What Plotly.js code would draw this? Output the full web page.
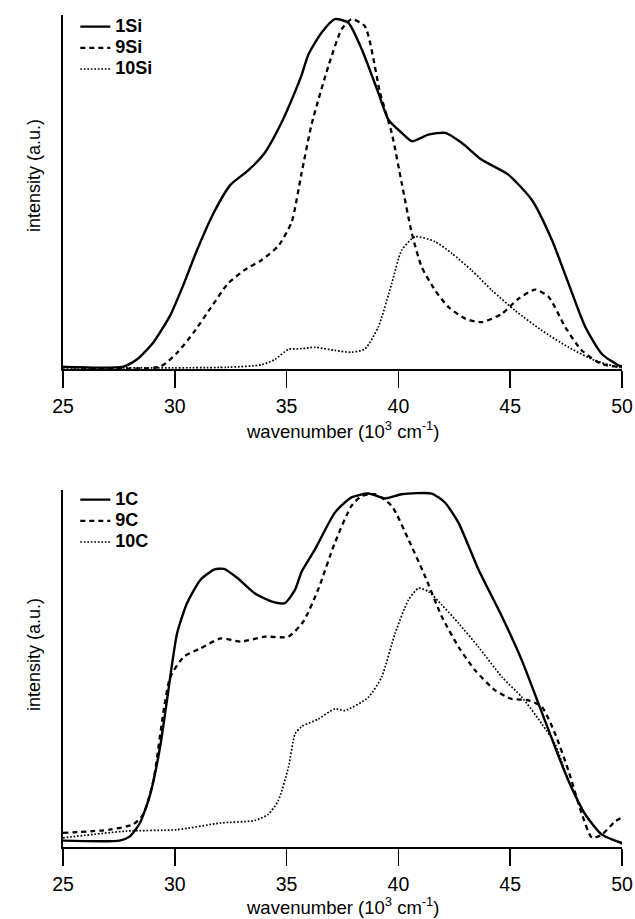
<!DOCTYPE html>
<html>
<head>
<meta charset="utf-8">
<script src="https://cdn.plot.ly/plotly-3.0.1.min.js"></script>
<style>html,body{margin:0;padding:0;background:#fff;}#chart{width:635px;height:919px;}</style>
</head>
<body>
<div id="chart"></div>
<script>
// ---- Top panel (Si) ----
const x1Si = [25, 27.7, 28.3, 29.04, 29.8, 30.4, 31.0, 31.76, 32.5, 33.27, 34.0, 34.77, 35.38, 35.67, 35.98, 36.57, 37.16, 37.76, 38.36, 39.1, 39.55, 40.15, 40.6, 41.34, 42.1, 42.84, 43.73, 44.93, 45.97, 46.87, 47.61, 48.36, 49.1, 49.85, 50];
const y1Si = [0.006, 0.007, 0.027, 0.076, 0.154, 0.243, 0.341, 0.449, 0.527, 0.567, 0.616, 0.704, 0.793, 0.84, 0.90, 0.962, 1.0, 0.99, 0.914, 0.79, 0.713, 0.675, 0.651, 0.67, 0.675, 0.646, 0.598, 0.555, 0.483, 0.368, 0.244, 0.12, 0.043, 0.01, 0.008];

const x9Si = [25, 29.34, 30.1, 30.85, 31.6, 32.36, 33.1, 33.87, 34.62, 35.22, 35.67, 36.12, 36.87, 37.46, 37.9, 38.5, 39.18, 39.7, 40.15, 40.6, 41.04, 41.64, 42.24, 42.99, 43.73, 44.63, 45.37, 46.12, 46.72, 47.46, 48.2, 49.1, 50];
const y9Si = [0.006, 0.007, 0.046, 0.105, 0.174, 0.243, 0.282, 0.311, 0.351, 0.419, 0.56, 0.70, 0.866, 0.971, 1.0, 0.98, 0.79, 0.675, 0.531, 0.388, 0.292, 0.225, 0.177, 0.144, 0.134, 0.158, 0.201, 0.227, 0.206, 0.12, 0.053, 0.014, 0.005];

const x10Si = [25, 32.36, 33.87, 34.47, 35.08, 35.67, 36.27, 37.16, 37.9, 38.5, 39.1, 39.7, 40.15, 40.75, 41.64, 42.4, 43.28, 44.18, 45.22, 46.42, 47.61, 48.8, 49.85, 50];
const y10Si = [0.003, 0.005, 0.012, 0.027, 0.056, 0.058, 0.062, 0.053, 0.048, 0.057, 0.12, 0.244, 0.34, 0.378, 0.364, 0.33, 0.282, 0.225, 0.167, 0.11, 0.062, 0.024, 0.005, 0.004];

// ---- Bottom panel (C) ----
const x1C = [25, 27.53, 27.99, 28.44, 28.9, 29.34, 29.65, 30.1, 30.55, 31.15, 31.76, 32.2, 32.8, 33.57, 34.32, 34.92, 35.38, 35.68, 36.27, 37.16, 37.9, 38.66, 39.4, 40.15, 41.49, 42.09, 42.69, 43.58, 44.63, 45.52, 46.27, 47.01, 47.61, 48.36, 49.1, 50];
const y1C = [0.018, 0.018, 0.030, 0.068, 0.149, 0.282, 0.415, 0.604, 0.69, 0.756, 0.785, 0.787, 0.761, 0.718, 0.695, 0.69, 0.728, 0.78, 0.842, 0.946, 0.989, 1.0, 0.986, 0.998, 1.0, 0.974, 0.917, 0.785, 0.652, 0.528, 0.405, 0.282, 0.187, 0.092, 0.035, 0.011];

const x9C = [25, 27.08, 28.14, 28.59, 29.04, 29.5, 29.8, 30.4, 31.15, 32.06, 32.96, 34.02, 35.08, 35.75, 36.42, 37.16, 37.9, 38.36, 38.96, 39.7, 40.45, 41.19, 41.94, 42.69, 43.43, 44.33, 45.07, 45.82, 46.42, 47.01, 47.61, 48.21, 48.66, 49.1, 49.7, 50];
const y9C = [0.04, 0.049, 0.064, 0.092, 0.187, 0.386, 0.481, 0.538, 0.562, 0.59, 0.581, 0.595, 0.595, 0.638, 0.73, 0.861, 0.965, 0.993, 0.998, 0.965, 0.87, 0.766, 0.652, 0.566, 0.5, 0.443, 0.419, 0.415, 0.396, 0.32, 0.215, 0.092, 0.026, 0.035, 0.073, 0.084];

const x10C = [25, 27.84, 30.1, 32.06, 33.57, 34.17, 34.62, 35.08, 35.38, 35.68, 36.42, 37.16, 37.61, 38.66, 39.25, 39.85, 40.45, 40.9, 41.34, 41.94, 42.69, 43.58, 44.63, 45.52, 46.42, 47.01, 47.61, 48.36, 49.1, 50];
const y10C = [0.026, 0.045, 0.049, 0.068, 0.075, 0.092, 0.13, 0.225, 0.32, 0.341, 0.362, 0.391, 0.386, 0.424, 0.481, 0.604, 0.699, 0.732, 0.723, 0.685, 0.633, 0.566, 0.481, 0.424, 0.348, 0.291, 0.187, 0.092, 0.035, 0.009];

const xTicks = [25, 30, 35, 40, 45, 50];
const namesTop = ['1Si', '9Si', '10Si'];
const namesBot = ['1C', '9C', '10C'];
const xTitle = 'wavenumber (10<sup>3</sup> cm<sup>-1</sup>)';
const yTitle = 'intensity (a.u.)';

const solid = {color: '#000', width: 2.4, dash: 'solid', shape: 'spline', smoothing: 0.6};
const dashed = {color: '#000', width: 2.3, dash: '5px,4px', shape: 'spline', smoothing: 0.6};
const dotted = {color: '#000', width: 1.7, dash: '1.7px,1.8px', shape: 'spline', smoothing: 0.6};

function lbl(s) { return '<span style="font-size:18px">' + s + '</span>'; }

function tr(x, y, name, line, xa, ya, lg) {
  return {x: x, y: y, name: lbl(name), type: 'scatter', mode: 'lines', line: line,
          xaxis: xa, yaxis: ya, legend: lg, hoverinfo: 'skip'};
}

const data = [
  tr(x1Si, y1Si, namesTop[0], solid, 'x', 'y', 'legend'),
  tr(x9Si, y9Si, namesTop[1], dashed, 'x', 'y', 'legend'),
  tr(x10Si, y10Si, namesTop[2], dotted, 'x', 'y', 'legend'),
  tr(x1C, y1C, namesBot[0], solid, 'x2', 'y2', 'legend2'),
  tr(x9C, y9C, namesBot[1], dashed, 'x2', 'y2', 'legend2'),
  tr(x10C, y10C, namesBot[2], dotted, 'x2', 'y2', 'legend2')
];

const fam = 'Liberation Sans, Arial, Helvetica, sans-serif';
const W = 635, H = 919, L = 63, R = 13;
const PW = W - L - R;

function xax(anchor) {
  return {
    anchor: anchor, domain: [0, 1], range: [25, 50],
    tickvals: xTicks, ticktext: xTicks.map(String),
    ticks: 'outside', ticklen: 17, tickwidth: 1.6, tickcolor: '#000',
    ticklabelstandoff: 2,
    showline: true, linecolor: '#000', linewidth: 2,
    showgrid: false, zeroline: false,
    tickfont: {family: fam, size: 19.5, color: '#000'},
    automargin: false, fixedrange: true
  };
}
function yax(anchor, dom, top) {
  return {
    anchor: anchor, domain: dom, range: [0, top],
    showline: true, linecolor: '#000', linewidth: 2,
    showticklabels: false, ticks: '', showgrid: false, zeroline: false,
    automargin: false, fixedrange: true
  };
}

function px2y(py) { return 1 - py / H; }
function px2x(pxv) { return (pxv - L) / PW; }

const titleFont = {family: fam, size: 18.5, color: '#000'};
const annotations = [
  {text: xTitle, xref: 'paper', yref: 'paper', x: 0.5, y: px2y(430), xanchor: 'center', yanchor: 'middle', showarrow: false, font: titleFont},
  {text: xTitle, xref: 'paper', yref: 'paper', x: 0.5, y: px2y(906), xanchor: 'center', yanchor: 'middle', showarrow: false, font: titleFont},
  {text: yTitle, xref: 'paper', yref: 'paper', x: px2x(34), y: px2y(176), xanchor: 'center', yanchor: 'middle', textangle: -90, showarrow: false, font: {family: fam, size: 18, color: '#000'}},
  {text: yTitle, xref: 'paper', yref: 'paper', x: px2x(34), y: px2y(655), xanchor: 'center', yanchor: 'middle', textangle: -90, showarrow: false, font: {family: fam, size: 18, color: '#000'}}
];

const legendFont = {family: fam, size: 14, color: '#000', weight: 'bold'};
const layout = {
  width: W, height: H,
  margin: {l: L, r: R, t: 0, b: 0},
  paper_bgcolor: '#fff', plot_bgcolor: '#fff',
  showlegend: true,
  xaxis: xax('y'),
  yaxis: yax('x', [px2y(369), px2y(15)], 1.012),
  xaxis2: xax('y2'),
  yaxis2: yax('x2', [px2y(847), px2y(490)], 1.01),
  annotations: annotations,
  legend: {x: 0.022, y: px2y(11), xanchor: 'left', yanchor: 'top', bgcolor: 'rgba(0,0,0,0)',
           font: legendFont, tracegroupgap: 0, itemwidth: 30},
  legend2: {x: 0.022, y: px2y(484), xanchor: 'left', yanchor: 'top', bgcolor: 'rgba(0,0,0,0)',
           font: legendFont, tracegroupgap: 0, itemwidth: 30}
};

Plotly.newPlot('chart', data, layout, {displayModeBar: false, staticPlot: true});
</script>
</body>
</html>
